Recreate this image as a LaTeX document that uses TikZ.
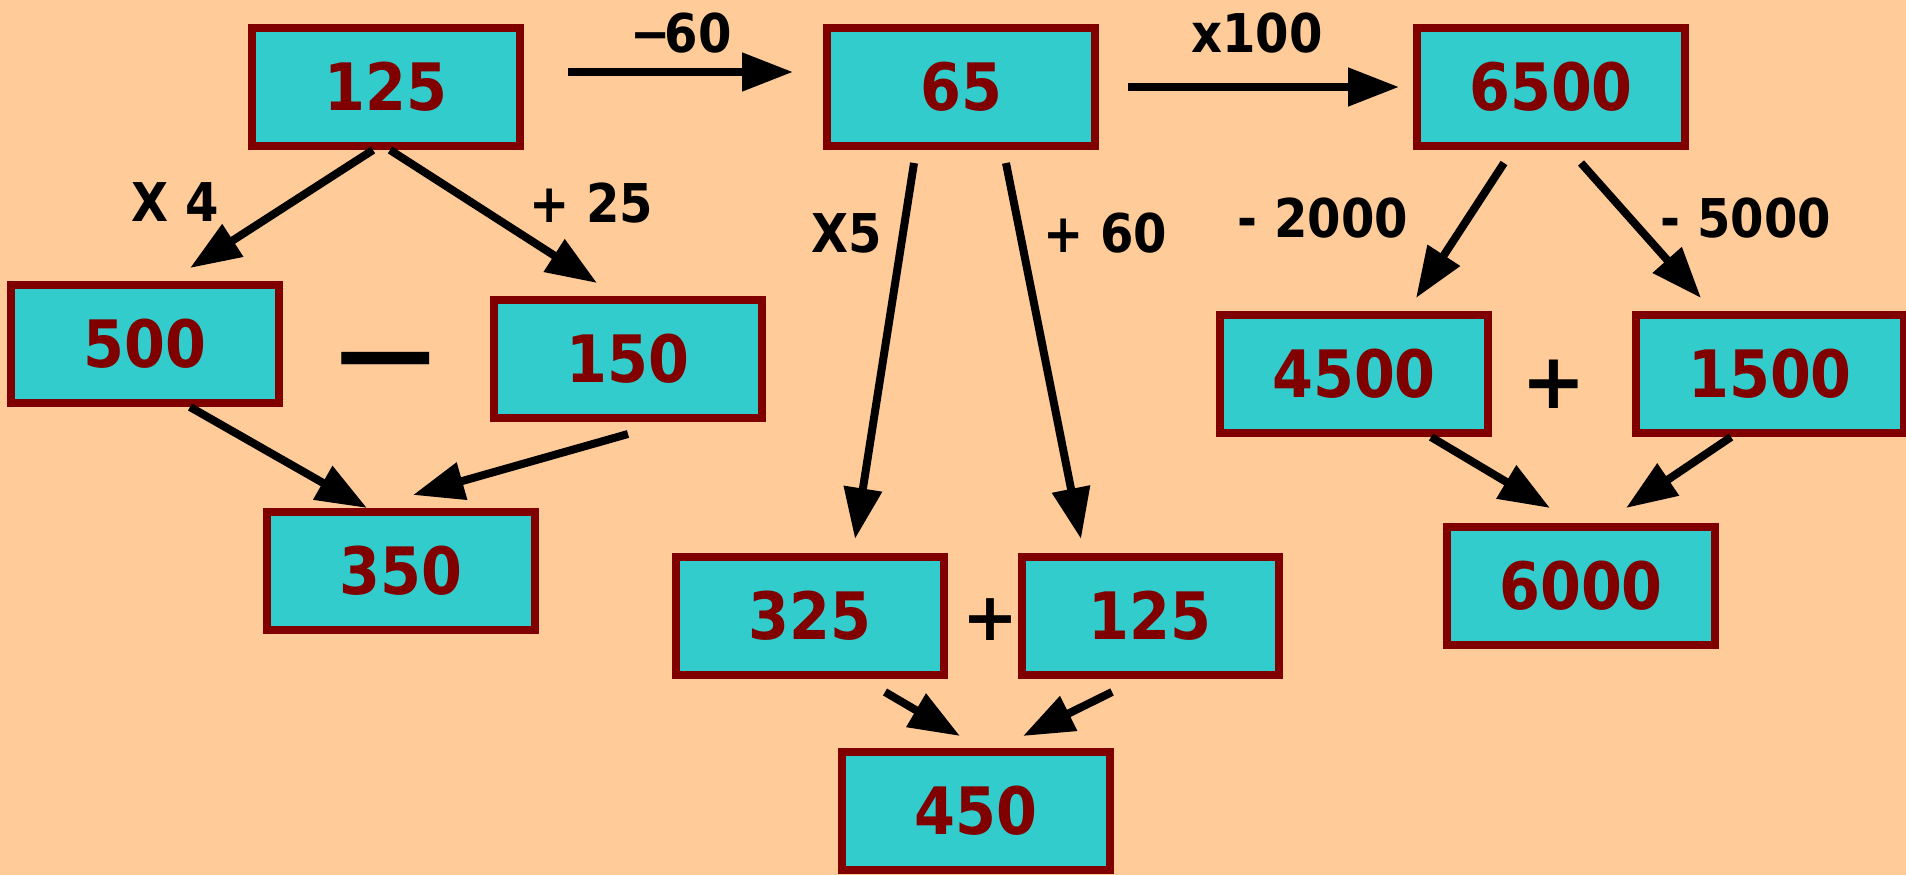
\documentclass[tikz,border=0pt]{standalone}
\usepackage{fontspec}
\setmainfont{DejaVu Sans}
\newfontfamily\boxFont{DejaVu Sans Condensed}
\usepackage{xcolor}
\usetikzlibrary{arrows.meta}
\definecolor{bgPeach}{RGB}{255, 204, 153}
\definecolor{boxTeal}{RGB}{51, 204, 204}
\definecolor{boxRed}{RGB}{128, 0, 0}

\begin{document}
\begin{tikzpicture}[
    numbox/.style={draw=boxRed, fill=boxTeal, line width=0.8mm, minimum width=2.68cm,
        minimum height=1.18cm, inner sep=0pt, text=boxRed,
        font=\boxFont\bfseries\fontsize{18.6}{20}\selectfont},
    oplabel/.style={inner sep=0pt, font=\boxFont\bfseries\fontsize{15.2}{17}\selectfont},
    bigop/.style={inner sep=0pt, font=\bfseries\fontsize{#1}{#1}\selectfont},
    arr/.style={-{Triangle[length=5.1mm, width=3.7mm]}, line width=0.8mm}
]
    % 背景
    \fill[bgPeach] (0,0) rectangle (19.06,-8.75);
    \useasboundingbox (0,0) rectangle (19.06,-8.75);

    % 数の箱
    \node[numbox] (top125) at (3.86,-0.87) {125};
    \node[numbox] (b65) at (9.61,-0.87) {65};
    \node[numbox] (b6500) at (15.51,-0.87) {6500};
    \node[numbox] (b500) at (1.45,-3.44) {500};
    \node[numbox] (b150) at (6.28,-3.59) {150};
    \node[numbox] (b350) at (4.01,-5.71) {350};
    \node[numbox] (b325) at (8.10,-6.16) {325};
    \node[numbox, minimum width=2.57cm] (b125) at (11.50,-6.16) {125};
    \node[numbox] (b450) at (9.76,-8.11) {450};
    \node[numbox] (b4500) at (13.54,-3.74) {4500};
    \node[numbox] (b1500) at (17.70,-3.74) {1500};
    \node[numbox] (b6000) at (15.81,-5.86) {6000};

    % 横の矢印
    \draw[arr] ([xshift=4.4mm, yshift=1.5mm]top125.east) -- ([xshift=-3mm, yshift=1.5mm]b65.west);
    \draw[arr] ([xshift=2.9mm]b65.east) -- ([xshift=-1.4mm]b6500.west);

    % 125 から
    \draw[arr] ([xshift=-1.3mm]top125.south) -- ([xshift=4.5mm, yshift=1.3mm]b500.north);
    \draw[arr] ([xshift=0.4mm]top125.south) -- ([xshift=-3.1mm, yshift=1.3mm]b150.north);
    \draw[arr] ([xshift=4.5mm]b500.south) -- ([xshift=-3.4mm]b350.north);
    \draw[arr] ([yshift=-1.2mm]b150.south) -- ([xshift=1.2mm, yshift=1.3mm]b350.north);

    % 65 から
    \draw[arr] ([xshift=-4.7mm, yshift=-1.3mm]b65.south) -- ([xshift=4.5mm, yshift=1.4mm]b325.north);
    \draw[arr] ([xshift=4.5mm, yshift=-1.3mm]b65.south) -- ([xshift=-6.9mm, yshift=1.4mm]b125.north);
    \draw[arr] ([xshift=7.5mm, yshift=-1.3mm]b325.south) -- ([xshift=-1.6mm, yshift=1.2mm]b450.north);
    \draw[arr] ([xshift=-3.8mm, yshift=-1.3mm]b125.south) -- ([xshift=4.7mm, yshift=1.2mm]b450.north);

    % 6500 から
    \draw[arr] ([xshift=-4.7mm, yshift=-1.3mm]b6500.south) -- ([xshift=6.2mm, yshift=1.3mm]b4500.north);
    \draw[arr] ([xshift=3mm, yshift=-1.3mm]b6500.south) -- ([xshift=-6.9mm, yshift=1.3mm]b1500.north);
    \draw[arr] ([xshift=7.7mm]b4500.south) -- ([xshift=-3.1mm, yshift=1.5mm]b6000.north);
    \draw[arr] ([xshift=-3.9mm]b1500.south) -- ([xshift=4.5mm, yshift=1.5mm]b6000.north);

    % 演算のラベル
    \node[oplabel] (lm60) at (6.81,-0.33) {−\kern-0.12em 60};
    \node[oplabel] (lx100) at (12.57,-0.33) {x100};
    \node[oplabel] (lx4) at (1.75,-2.02) {X 4};
    \node[oplabel] (lp25) at (5.91,-2.03) {+ 25};
    \node[oplabel] (lx5) at (8.47,-2.33) {X5};
    \node[oplabel] (lp60) at (11.05,-2.33) {+ 60};
    \node[oplabel] (lm2000) at (13.23,-2.18) {- 2000};
    \node[oplabel] (lm5000) at (17.46,-2.18) {- 5000};

    % 箱の間の記号
    \node[bigop=28] (minus) at (3.86,-3.69) {—};
    \node[bigop=19] (plus1) at (9.90,-6.20) {+};
    \node[bigop=22] (plus2) at (15.54,-3.84) {+};
\end{tikzpicture}
\end{document}
